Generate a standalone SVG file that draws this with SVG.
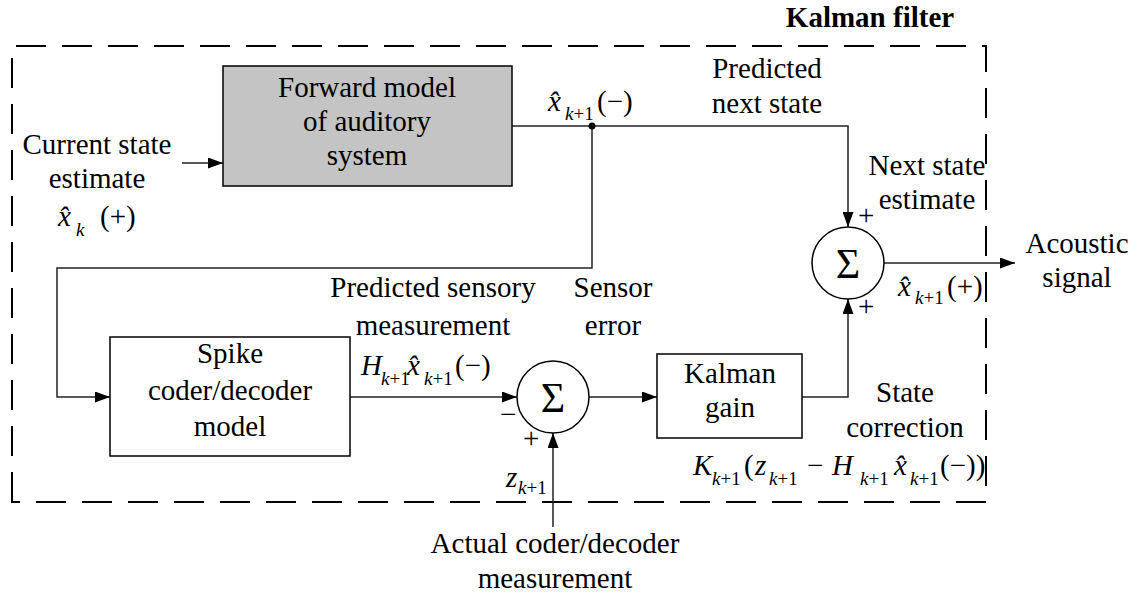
<svg xmlns="http://www.w3.org/2000/svg" width="1136" height="595" viewBox="0 0 1136 595">
  <style>
    text { font-family: 'Liberation Serif', 'DejaVu Serif', serif; fill: #000; }
    .lbl { font-size: 29px; text-anchor: middle; }
    .title { font-size: 29px; font-weight: bold; text-anchor: middle; }
    .m { font-size: 29px; font-style: italic; }
    .mr { font-size: 29px; }
    .sub { font-size: 19px; }
    .sig { font-size: 42px; text-anchor: middle; }
    .block { fill: #fff; stroke: #000; stroke-width: 1.5; }
    .shaded { fill: #c4c4c4; stroke: #000; stroke-width: 1.5; }
    .wire { fill: none; stroke: #222; stroke-width: 1.5; }
    .frame { fill: none; stroke: #000; stroke-width: 2; stroke-dasharray: 30 16; }
  </style>
  <defs>
    <marker id="arrow" markerUnits="userSpaceOnUse" markerWidth="16" markerHeight="11" refX="15" refY="5.5" orient="auto">
      <path d="M0,0 L15,5.5 L0,11 z" fill="#000"/>
    </marker>
  </defs>

  <!-- Kalman filter boundary -->
  <g id="kalman-filter-frame">
    <path class="frame" d="M12,502 L12,46 L986,46 L986,502 Z"/>
    <text class="title" x="870" y="27">Kalman filter</text>
  </g>

  <!-- signal paths -->
  <g id="connectors">
    <line class="wire" x1="182" y1="163" x2="223" y2="163" marker-end="url(#arrow)"/>
    <polyline class="wire" points="512,126 848,126 848,227" marker-end="url(#arrow)"/>
    <polyline class="wire" points="592,126 592,268 57,268 57,397 110,397" marker-end="url(#arrow)"/>
    <line class="wire" x1="350" y1="397" x2="517" y2="397" marker-end="url(#arrow)"/>
    <line class="wire" x1="589" y1="397" x2="657" y2="397" marker-end="url(#arrow)"/>
    <polyline class="wire" points="802,397 848,397 848,299" marker-end="url(#arrow)"/>
    <line class="wire" x1="884" y1="263" x2="1015" y2="263" marker-end="url(#arrow)"/>
    <line class="wire" x1="553" y1="527" x2="553" y2="433" marker-end="url(#arrow)"/>
    <circle cx="592" cy="126" r="3.5" fill="#000"/>
  </g>

  <g id="forward-model">
    <rect class="shaded" x="223" y="66" width="289" height="120"/>
    <text class="lbl" x="367" y="97">Forward model</text>
    <text class="lbl" x="367" y="131">of auditory</text>
    <text class="lbl" x="367" y="165">system</text>
  </g>

  <g id="spike-coder">
    <rect class="block" x="110" y="337" width="240" height="119"/>
    <text class="lbl" x="230" y="363">Spike</text>
    <text class="lbl" x="230" y="400">coder/decoder</text>
    <text class="lbl" x="230" y="436">model</text>
  </g>

  <g id="sum-error">
    <circle class="block" cx="553" cy="397" r="36" stroke-width="1.2"/>
    <text class="sig" x="553" y="412">Σ</text>
    <text class="mr" x="500" y="424">−</text>
    <text class="mr" x="523" y="448">+</text>
  </g>

  <g id="kalman-gain">
    <rect class="block" x="657" y="354" width="145" height="84"/>
    <text class="lbl" x="730" y="383">Kalman</text>
    <text class="lbl" x="730" y="417">gain</text>
  </g>

  <g id="sum-update">
    <circle class="block" cx="848" cy="263" r="36" stroke-width="1.2"/>
    <text class="sig" x="848" y="278">Σ</text>
    <text class="mr" x="858" y="225">+</text>
    <text class="mr" x="858" y="316">+</text>
  </g>

  <!-- labels -->
  <g id="current-state">
    <text class="lbl" x="97" y="154">Current state</text>
    <text class="lbl" x="97" y="188">estimate</text>
    <text class="m" x="58" y="226">x&#x302;</text>
    <text class="sub" x="76" y="236" font-style="italic">k</text>
    <text class="mr" x="100" y="226">(+)</text>
  </g>

  <g id="predicted-state">
    <text class="m" x="548" y="111">x&#x302;</text>
    <text class="sub" x="565" y="120"><tspan font-style="italic">k</tspan>+1</text>
    <text class="mr" x="597" y="111">(−)</text>
    <text class="lbl" x="767" y="78">Predicted</text>
    <text class="lbl" x="767" y="113">next state</text>
  </g>

  <g id="next-state">
    <text class="lbl" x="927" y="175">Next state</text>
    <text class="lbl" x="927" y="209">estimate</text>
    <text class="m" x="898" y="296">x&#x302;</text>
    <text class="sub" x="915" y="304"><tspan font-style="italic">k</tspan>+1</text>
    <text class="mr" x="947" y="296">(+)</text>
  </g>

  <g id="acoustic-signal">
    <text class="lbl" x="1077" y="253">Acoustic</text>
    <text class="lbl" x="1077" y="287">signal</text>
  </g>

  <g id="predicted-measurement">
    <text class="lbl" x="433" y="297">Predicted sensory</text>
    <text class="lbl" x="433" y="335">measurement</text>
    <text class="m" x="361" y="375">H</text>
    <text class="sub" x="381" y="385"><tspan font-style="italic">k</tspan>+1</text>
    <text class="m" x="407" y="375">x&#x302;</text>
    <text class="sub" x="424" y="385"><tspan font-style="italic">k</tspan>+1</text>
    <text class="mr" x="455" y="375">(−)</text>
  </g>

  <g id="sensor-error">
    <text class="lbl" x="613" y="297">Sensor</text>
    <text class="lbl" x="613" y="335">error</text>
  </g>

  <g id="measurement-input">
    <text class="m" x="506" y="487">z</text>
    <text class="sub" x="518" y="494"><tspan font-style="italic">k</tspan>+1</text>
    <text class="lbl" x="555" y="553">Actual coder/decoder</text>
    <text class="lbl" x="555" y="588">measurement</text>
  </g>

  <g id="state-correction">
    <text class="lbl" x="905" y="402">State</text>
    <text class="lbl" x="905" y="437">correction</text>
    <text class="m" x="693" y="475">K</text>
    <text class="sub" x="712" y="485"><tspan font-style="italic">k</tspan>+1</text>
    <text class="mr" x="744" y="475">(</text>
    <text class="m" x="755" y="475">z</text>
    <text class="sub" x="769" y="485"><tspan font-style="italic">k</tspan>+1</text>
    <text class="mr" x="807" y="475">−</text>
    <text class="m" x="832" y="475">H</text>
    <text class="sub" x="860" y="485"><tspan font-style="italic">k</tspan>+1</text>
    <text class="m" x="894" y="475">x&#x302;</text>
    <text class="sub" x="910" y="485"><tspan font-style="italic">k</tspan>+1</text>
    <text class="mr" x="940" y="475">(−))</text>
  </g>
</svg>
